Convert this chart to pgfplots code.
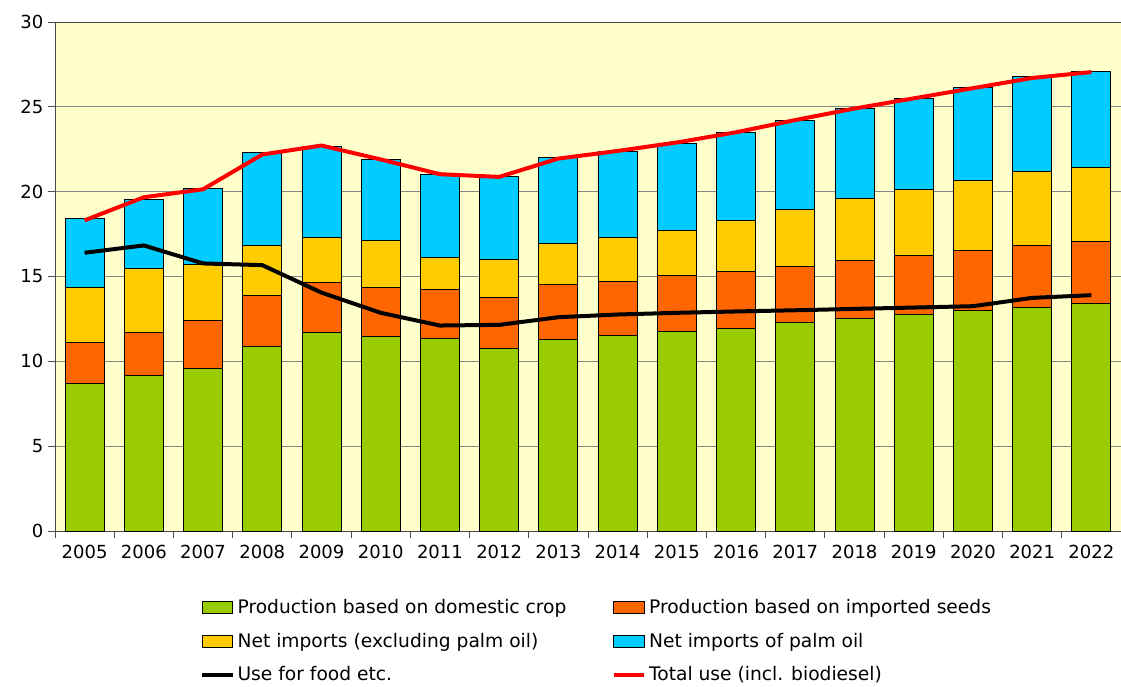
\documentclass[border=0pt]{standalone}
\usepackage{fontspec}
\setmainfont{DejaVu Sans}
\usepackage{pgfplots}
\usepackage{pgfplotstable}
\pgfplotsset{compat=1.18}
\definecolor{cgreen}{HTML}{99CC00}
\definecolor{corange}{HTML}{FF6600}
\definecolor{cyellow}{HTML}{FFCC00}
\definecolor{cblue}{HTML}{00CCFF}
\definecolor{cbg}{HTML}{FFFFCC}
\definecolor{cgrid}{HTML}{858585}
\definecolor{cred}{HTML}{FF0000}

\pgfplotstableread{
x g o y b food total
0 8.72 2.38 3.25 4.08 16.40 18.31
1 9.16 2.55 3.77 4.07 16.83 19.67
2 9.57 2.85 3.29 4.49 15.77 20.14
3 10.87 3.03 2.95 5.46 15.67 22.19
4 11.71 2.96 2.60 5.39 14.05 22.72
5 11.46 2.89 2.76 4.79 12.86 21.90
6 11.34 2.91 1.89 4.85 12.11 21.03
7 10.73 3.05 2.25 4.86 12.15 20.87
8 11.30 3.23 2.42 5.04 12.60 21.95
9 11.50 3.23 2.54 5.08 12.76 22.40
10 11.74 3.30 2.68 5.14 12.86 22.90
11 11.95 3.36 2.97 5.23 12.94 23.50
12 12.27 3.34 3.33 5.28 13.01 24.22
13 12.52 3.45 3.60 5.32 13.09 24.90
14 12.76 3.48 3.86 5.42 13.17 25.50
15 12.98 3.58 4.07 5.50 13.25 26.10
16 13.19 3.63 4.37 5.57 13.74 26.70
17 13.43 3.66 4.35 5.63 13.90 27.05
}\data

\pgfplotsset{
  common/.style={
    scale only axis, width=799.5pt, height=381.75pt,
    xmin=-0.5, xmax=17.5, ymin=0, ymax=30,
    at={(0,0)}, anchor=south west,
  },
  barimg/.style={legend image code/.code={\draw[##1,line width=0.75pt] (0pt,-4.5pt) rectangle (23pt,4.5pt);}},
  lineimg/.style={legend image code/.code={\draw[##1] (0pt,0pt) -- (23pt,0pt);}},
}

\begin{document}
\begin{tikzpicture}
\begin{axis}[common,
  ybar stacked, bar width=29.25pt,
  axis background/.style={fill=cbg},
  ymajorgrids, grid style={draw=cgrid, line width=0.75pt},
  ytick={0,5,...,30},
  xtick={-0.5,0.5,...,17.5}, xticklabels={},
  extra x ticks={0,1,...,17},
  extra x tick labels={2005,2006,2007,2008,2009,2010,2011,2012,2013,2014,2015,2016,2017,2018,2019,2020,2021,2022},
  extra x tick style={tick style={draw=none}},
  xtick pos=lower, ytick pos=lower,
  tick align=outside, major tick length=5.25pt,
  tick style={draw=black!70, line width=0.75pt},
  axis line style={draw=black!70, line width=0.75pt},
  tick label style={font=\fontsize{13.5}{16}\selectfont},
  xticklabel style={yshift=-2pt},
  /pgf/number format/assume math mode=true,
  every axis plot/.append style={draw=black, line width=0.75pt},
]
\addplot[fill=cgreen] table[x=x,y=g]{\data};
\addplot[fill=corange] table[x=x,y=o]{\data};
\addplot[fill=cyellow] table[x=x,y=y]{\data};
\addplot[fill=cblue] table[x=x,y=b]{\data};
\end{axis}
\begin{axis}[common, hide axis,
  legend columns=2,
  legend style={at={(0.136,-0.129)}, anchor=north west, draw=none, fill=none,
    inner sep=0pt, font=\fontsize{14}{16}\selectfont,
    row sep=9pt,
    /tikz/every even column/.append style={column sep=32pt}},
  legend cell align=left,
]
\addlegendimage{barimg, fill=cgreen, draw=black}
\addlegendentry{Production based on domestic crop}
\addlegendimage{barimg, fill=corange, draw=black}
\addlegendentry{Production based on imported seeds}
\addlegendimage{barimg, fill=cyellow, draw=black}
\addlegendentry{Net imports (excluding palm oil)}
\addlegendimage{barimg, fill=cblue, draw=black}
\addlegendentry{Net imports of palm oil}
\addplot[lineimg, black, line width=3pt, line join=round] table[x=x,y=food]{\data};
\addlegendentry{Use for food etc.}
\addplot[lineimg, cred, line width=3pt, line join=round] table[x=x,y=total]{\data};
\addlegendentry{Total use (incl. biodiesel)}
\end{axis}
\pgfresetboundingbox
\path[use as bounding box] (-41.25pt,-116.25pt) rectangle (799.5pt,398.25pt);
\end{tikzpicture}
\end{document}
